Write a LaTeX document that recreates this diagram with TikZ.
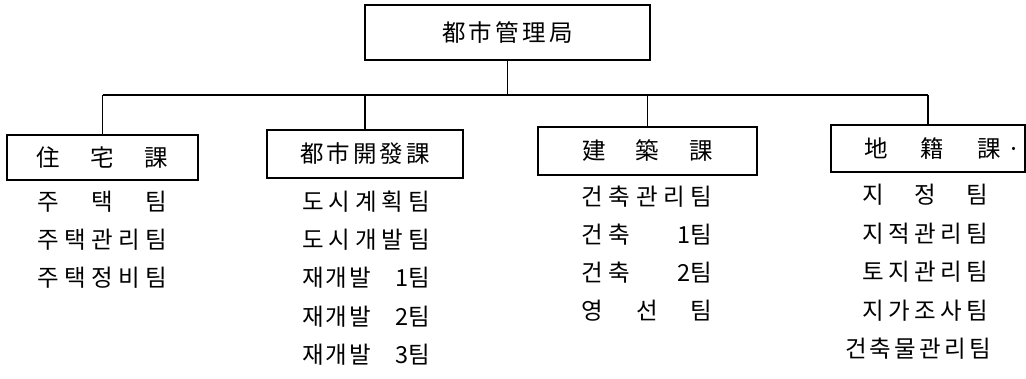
\documentclass[tikz,border=0pt]{standalone}
\usepackage{fontspec}
\newfontfamily\krfont{Noto Sans CJK KR}
\newcommand\fitbox[2]{\hbox to #1pt{#2}}
\newcommand\gapx{\hfil}
\begin{document}
\begin{tikzpicture}[x=1pt,y=-1pt,
  every node/.style={font=\krfont\fontsize{23.5pt}{27pt}\selectfont, inner sep=0pt},
  unitbox/.style={draw, line width=1.1pt, inner sep=0pt},
  team/.style={inner sep=0pt},
  conn/.style={line width=1.1pt}]
\useasboundingbox (0,0) rectangle (1026,378);
% top
\node[unitbox, minimum width=285pt, minimum height=55pt] (top) at (507.5,32.5) {\fitbox{131}{都\gapx 市\gapx 管\gapx 理\gapx 局}};
% divisions
\node[unitbox, minimum width=191pt, minimum height=45pt] (d1) at (102.5,157.5) {\fitbox{132}{住\gapx 宅\gapx 課}};
\node[unitbox, minimum width=196pt, minimum height=48pt] (d2) at (365,154) {\fitbox{130}{都\gapx 市\gapx 開\gapx 發\gapx 課}};
\node[unitbox, minimum width=219pt, minimum height=48pt] (d3) at (647.5,151) {\fitbox{131}{建\gapx 築\gapx 課}};
\node[unitbox, minimum width=194pt, minimum height=47pt] (d4) at (928,148.5) {\kern9pt\fitbox{137}{地\gapx 籍\gapx 課}\rlap{\kern7pt·}};
% bus
\coordinate (bus) at (0,95);
\draw[conn] (top.south) -- (top.south |- bus);
\draw[conn] (d1.north |- bus) -- (d4.north |- bus);
\draw[conn] (d1.north |- bus) -- (d1.north);
\draw[conn] (d2.north |- bus) -- (d2.north);
\draw[conn] (d3.north |- bus) -- (d3.north);
\draw[conn] (d4.north |- bus) -- (d4.north);
% column 1
\node[team] (t11) at (102,202) {\fitbox{130}{주\gapx 택\gapx 팀}};
\node[team] (t12) at (102,240) {\fitbox{130}{주\gapx 택\gapx 관\gapx 리\gapx 팀}};
\node[team] (t13) at (102,278) {\fitbox{130}{주\gapx 택\gapx 정\gapx 비\gapx 팀}};
% column 2
\node[team] (t21) at (366,202) {\fitbox{128}{도\gapx 시\gapx 계\gapx 획\gapx 팀}};
\node[team] (t22) at (366,240) {\fitbox{128}{도\gapx 시\gapx 개\gapx 발\gapx 팀}};
\node[team] (t23) at (366,278) {\fitbox{128}{재\kern2pt 개\kern2pt 발\hfil 1팀}};
\node[team] (t24) at (366,317) {\fitbox{128}{재\kern2pt 개\kern2pt 발\hfil 2팀}};
\node[team] (t25) at (366,355) {\fitbox{128}{재\kern2pt 개\kern2pt 발\hfil 3팀}};
% column 3
\node[team] (t31) at (647,197) {\fitbox{131}{건\gapx 축\gapx 관\gapx 리\gapx 팀}};
\node[team] (t32) at (647,235) {\fitbox{131}{건\kern5pt 축\hfil 1팀}};
\node[team] (t33) at (647,273) {\fitbox{131}{건\kern5pt 축\hfil 2팀}};
\node[team] (t34) at (647,311) {\fitbox{131}{영\gapx 선\gapx 팀}};
% column 4
\node[team] (t41) at (925,195) {\fitbox{126}{지\gapx 정\gapx 팀}};
\node[team] (t42) at (925,234) {\fitbox{126}{지\gapx 적\gapx 관\gapx 리\gapx 팀}};
\node[team] (t43) at (925,272) {\fitbox{126}{토\gapx 지\gapx 관\gapx 리\gapx 팀}};
\node[team] (t44) at (925,311) {\fitbox{126}{지\gapx 가\gapx 조\gapx 사\gapx 팀}};
\node[team] (t45) at (918,349) {\fitbox{146}{건\gapx 축\gapx 물\gapx 관\gapx 리\gapx 팀}};
\end{tikzpicture}
\end{document}
